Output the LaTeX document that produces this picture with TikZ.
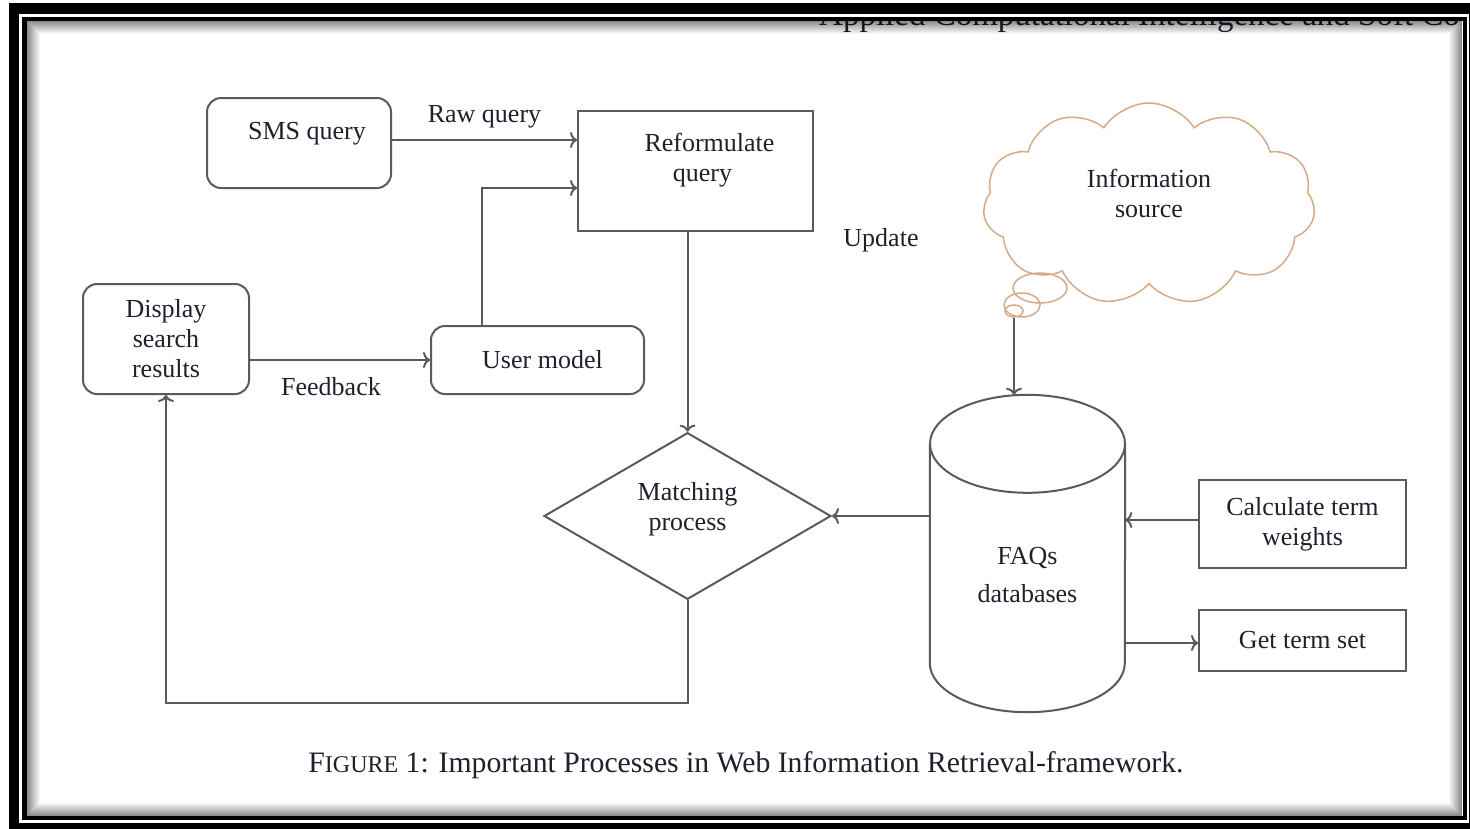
\documentclass[tikz,border=0pt]{standalone}
\usepackage{fontspec}
\setmainfont{Liberation Serif}
\usetikzlibrary{shapes.geometric,shapes.symbols,arrows.meta}

\definecolor{linegray}{RGB}{90,90,90}
\definecolor{textdark}{RGB}{35,30,45}
\definecolor{cloudtan}{RGB}{214,170,135}

\begin{document}
\begin{tikzpicture}[x=1pt,y=1pt,
  every node/.style={font=\fontsize{26}{30}\selectfont,text=textdark},
  box/.style={draw=linegray,line width=2pt,align=center,inner sep=0pt},
  round box/.style={box,rounded corners=14pt},
  link/.style={draw=linegray,line width=2pt,-{To[length=7pt,width=16pt]}},
  bubble/.style={ellipse,draw=cloudtan,line width=1.5pt,inner sep=0pt}]

  \useasboundingbox (0,0) rectangle (1470,-828);
  \clip (0,0) rectangle (1470,-828);
  \fill[white] (0,0) rectangle (1470,-828);

  \node[font=\fontsize{33}{36}\selectfont,anchor=base west,inner sep=0pt] (head) at (819,-25)
    {Applied Computational Intelligence and Soft Computing};
  \fill[white] (0,0) rectangle (1470,-4);
  \fill[white] (1461,0) rectangle (1470,-60);

  \draw[line width=11pt] (14,-8.5) rectangle (1473.5,-828.5);
  \draw[white,line width=3.2pt] (20.5,-15.6) rectangle (1467.5,-821.5);
  \draw[line width=4.5pt] (24.5,-19) rectangle (1465,-818);
  \foreach \i [evaluate=\i as \op using 0.45-0.035*\i] in {0,...,12}
    \draw[black,opacity=\op,line width=1pt] (27.5+\i,-21.5-\i) rectangle (1461.5-\i,-815.5+\i);

  \node[round box,minimum width=184pt,minimum height=90pt,text depth=24pt] (sms) at (299,-143) {\hspace*{16pt}SMS query};
  \node[box,minimum width=235pt,minimum height=120pt,text depth=27pt] (reform) at (695.5,-171)
    {\hspace*{28pt}Reformulate\\\hspace*{14pt}query};
  \node[round box,minimum width=213pt,minimum height=68pt] (user) at (537.5,-360) {\hspace*{10pt}User model};
  \node[round box,minimum width=166pt,minimum height=110pt] (disp) at (166,-339) {Display\\search\\results};
  \node[diamond,box,minimum width=287pt,minimum height=159pt,text depth=19pt] (match) at (687.5,-516) {Matching\\process};
  \node[box,minimum width=207pt,minimum height=88pt] (calc) at (1302.5,-524) {Calculate term\\weights};
  \node[box,minimum width=207pt,minimum height=61pt] (getset) at (1302.5,-640.5) {Get term set};
  \node[cloud,draw=cloudtan,line width=1.5pt,cloud puffs=11,cloud puff arc=115,aspect=1.6,
    minimum width=332pt,minimum height=202pt,align=center,text depth=22pt] (info) at (1149,-204) {Information\\source};
  \node[bubble,minimum width=54pt,minimum height=30pt] (bub1) at (1040,-288) {};
  \node[bubble,minimum width=36pt,minimum height=24pt] (bub2) at (1022,-305) {};
  \node[bubble,minimum width=18pt,minimum height=12pt] (tail) at (1014,-311) {};

  \node[minimum width=195pt,minimum height=317pt,align=center,inner sep=0pt,text height=98pt] (db) at (1027.5,-553.5) {FAQs\\[8pt]databases};
  \draw[draw=linegray,line width=2pt] ([yshift=-49pt]db.north) ellipse [x radius=97.5pt,y radius=49pt];
  \draw[draw=linegray,line width=2pt] ([yshift=-49pt]db.north west) -- ([yshift=49pt]db.south west)
    arc[start angle=180,end angle=360,x radius=97.5pt,y radius=49pt] -- ([yshift=-49pt]db.north east);

  \node (update) at (881,-240) {Update};
  \node[font=\fontsize{29.7}{34}\selectfont] (caption) at (746,-765)
    {F{\fontsize{24}{28}\selectfont IGURE} 1: Important Processes in Web Information Retrieval-framework.};

  \draw[link] ([yshift=3pt]sms.east) -- ([yshift=3pt]sms.east -| reform.west)
    node[midway,above=11pt,inner sep=0pt] (rawlbl) {Raw query};
  \draw[link] ([xshift=-55.5pt]user.north) |- ([yshift=-17pt]reform.west);
  \draw[link] (disp.east |- user.west) -- (user.west)
    node[midway,below=16pt,xshift=-9pt,inner sep=0pt] (fblbl) {Feedback};
  \draw[link] (reform.south -| match.north) -- (match.north);
  \draw[link] (match.south) -- ++(0,-103) -| (disp.south);
  \draw[link] (db.west |- match.east) -- (match.east);
  \draw[link] ([yshift=4pt]calc.west) -- ([yshift=4pt]calc.west -| db.east);
  \draw[link] ([yshift=-2.5pt]getset.west -| db.east) -- ([yshift=-2.5pt]getset.west);
  \draw[link] (tail.south) -- (tail.south |- db.north);
\end{tikzpicture}
\end{document}
